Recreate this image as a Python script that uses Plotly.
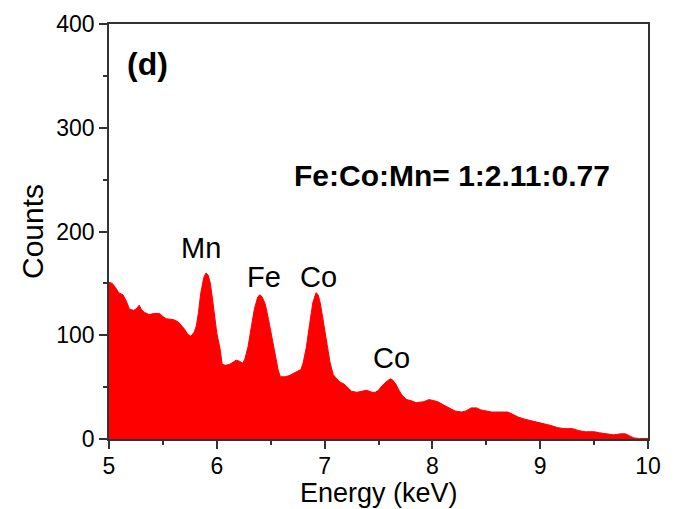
import plotly.graph_objects as go

# Spectrum (Energy in keV, Counts)
energy = [5.00, 5.03, 5.06, 5.09, 5.13, 5.16, 5.19, 5.23, 5.26, 5.28, 5.30, 5.33, 5.37, 5.42, 5.47,
          5.50, 5.53, 5.60, 5.64, 5.67, 5.70, 5.73, 5.76, 5.79, 5.81, 5.83, 5.85, 5.88, 5.90, 5.92,
          5.94, 5.96, 5.98, 6.00, 6.03, 6.05, 6.08, 6.12, 6.15, 6.18, 6.21, 6.24, 6.26, 6.29, 6.32,
          6.35, 6.38, 6.40, 6.42, 6.45, 6.48, 6.51, 6.54, 6.57, 6.59, 6.63, 6.67, 6.71, 6.75, 6.78,
          6.80, 6.83, 6.86, 6.89, 6.92, 6.94, 6.96, 6.99, 7.02, 7.05, 7.08, 7.11, 7.14, 7.18, 7.21,
          7.25, 7.30, 7.36, 7.39, 7.44, 7.47, 7.50, 7.53, 7.57, 7.61, 7.63, 7.66, 7.69, 7.72, 7.76,
          7.80, 7.85, 7.92, 7.97, 8.00, 8.05, 8.10, 8.15, 8.21, 8.27, 8.31, 8.36, 8.41, 8.45, 8.50,
          8.55, 8.62, 8.70, 8.74, 8.80, 8.86, 8.95, 9.03, 9.10, 9.16, 9.22, 9.30, 9.36, 9.42, 9.50,
          9.55, 9.62, 9.68, 9.75, 9.79, 9.83, 9.87, 9.92, 10.00]
counts = [151, 150, 146, 141, 139, 133, 125, 124, 126, 129, 125, 122, 120, 121, 121,
          118, 116, 115, 113, 110, 106, 101, 99, 103, 109, 122, 140, 156, 160, 158,
          150, 135, 118, 102, 87, 72, 71, 72, 74, 76, 75, 73, 77, 89, 108,
          126, 137, 139, 137, 130, 115, 98, 80, 66, 60, 60, 61, 63, 65, 67,
          73, 88, 110, 131, 141, 139, 131, 113, 93, 74, 62, 58, 55, 53, 50,
          46, 45, 46, 47, 45, 45, 47, 51, 55, 58, 57, 53, 47, 42, 38,
          37, 35, 36, 38, 37, 36, 33, 30, 27, 26, 27, 30, 30, 28, 27,
          26, 26, 26, 24, 21, 19, 17, 15, 13, 11, 10, 10, 8, 7, 7,
          6, 5, 4, 5, 5, 3, 1, 0.5, 0.5]

peak_labels = ["Mn", "Fe", "Co", "Co"]
peak_x = [5.85, 6.435, 6.945, 7.62]
peak_y = [184, 156, 156, 78]

panel_label = "(d)"
ratio_label = "Fe:Co:Mn= 1:2.11:0.77"
x_title = "Energy (keV)"
y_title = "Counts"

FONT = "Liberation Sans, Arial, sans-serif"
AXC = "#333333"

fig = go.Figure()
fig.add_trace(go.Scatter(x=energy, y=counts, mode="lines", fill="tozeroy",
                         fillcolor="#ff0000", line=dict(color="#ff0000", width=1),
                         hoverinfo="skip", showlegend=False))

for t, x, y in zip(peak_labels, peak_x, peak_y):
    fig.add_annotation(x=x, y=y, text=t, showarrow=False,
                       font=dict(family=FONT, size=29, color="black"))

fig.add_annotation(x=5.36, y=361, text="<b>%s</b>" % panel_label, showarrow=False,
                   font=dict(family=FONT, size=32, color="black"))
fig.add_annotation(x=8.18, y=254, text="<b>%s</b>" % ratio_label, showarrow=False,
                   font=dict(family=FONT, size=30, color="black"))

# x-axis title placed just below the tick labels, resting on the bottom edge
fig.add_annotation(x=0.5, xref="paper", y=0, yref="paper", yshift=-70,
                   text=x_title, showarrow=False, xanchor="center", yanchor="bottom",
                   borderpad=0,
                   font=dict(family=FONT, size=27, color="black"))

axis_common = dict(showline=True, linecolor=AXC, linewidth=1.8, mirror=True,
                   ticks="outside", ticklen=8, tickwidth=1.5, tickcolor=AXC,
                   showgrid=False, zeroline=False, automargin=False,
                   tickfont=dict(family=FONT, size=23, color="black"))

fig.update_xaxes(range=[5, 10], dtick=1, tick0=5, ticklabelstandoff=-3,
                 minor=dict(ticks="outside", ticklen=4, tickwidth=1.5, tickcolor=AXC, dtick=0.5),
                 **axis_common)
fig.update_yaxes(range=[0, 400], dtick=100, tick0=0,
                 minor=dict(ticks="outside", ticklen=4, tickwidth=1.5, tickcolor=AXC, dtick=50),
                 title=dict(text=y_title, font=dict(family=FONT, size=30, color="black"), standoff=4),
                 **axis_common)

fig.update_layout(width=680, height=509, margin=dict(l=109, r=32, t=24, b=70),
                  paper_bgcolor="white", plot_bgcolor="white")

fig.write_html("out.html")
